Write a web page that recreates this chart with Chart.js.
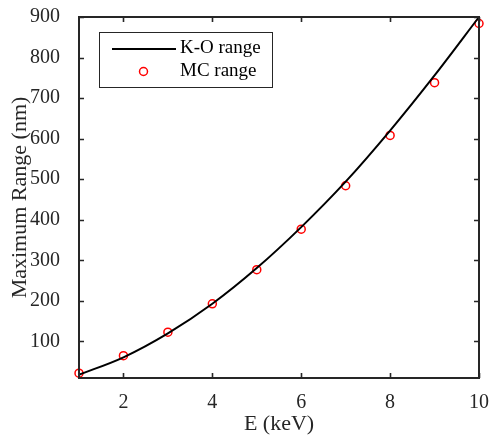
<!DOCTYPE html>
<html>
<head>
<meta charset="utf-8">
<script src="https://cdn.jsdelivr.net/npm/chart.js@4/dist/chart.umd.min.js"></script>
<style>
  html, body { margin: 0; padding: 0; background: #fff; }
  #wrap { width: 490px; height: 437px; }
</style>
</head>
<body>
<div id="wrap"><canvas id="c" width="490" height="437"></canvas></div>
<script>
// Beam energy (keV)
const energies = [1, 2, 3, 4, 5, 6, 7, 8, 9, 10];
// Kanaya–Okayama electron range (nm)
const koRange = [18, 61, 120, 193, 281, 382, 494, 620, 756, 900];
// Monte Carlo simulated maximum range (nm)
const mcRange = [22, 65, 123, 193, 277, 377, 484, 608, 738, 884];
// Axis tick values
const xTicks = [2, 4, 6, 8, 10];
const yTicks = [100, 200, 300, 400, 500, 600, 700, 800, 900];

const INK = '#262626';
const SERIF = "'Liberation Serif', 'Times New Roman', serif";

// Boxed axes with inward ticks on all four sides
const frame = {
  id: 'frame',
  afterDatasetsDraw(chart) {
    const { ctx, chartArea: a, scales: { x, y } } = chart;
    const len = 5;
    ctx.save();
    ctx.strokeStyle = INK;
    ctx.lineWidth = 1.6;
    ctx.beginPath();
    xTicks.forEach(v => {
      const px = Math.round(x.getPixelForValue(v)) + 0.5;
      ctx.moveTo(px, a.bottom); ctx.lineTo(px, a.bottom - len);
      ctx.moveTo(px, a.top); ctx.lineTo(px, a.top + len);
    });
    yTicks.forEach(v => {
      const py = Math.round(y.getPixelForValue(v)) + 0.5;
      ctx.moveTo(a.left, py); ctx.lineTo(a.left + len, py);
      ctx.moveTo(a.right, py); ctx.lineTo(a.right - len, py);
    });
    ctx.stroke();
    ctx.lineWidth = 2;
    ctx.strokeRect(a.left, a.top, a.right - a.left, a.bottom - a.top);
    ctx.restore();
  }
};

// Legend box in the upper-left corner of the plot
const boxLegend = {
  id: 'boxLegend',
  afterDraw(chart) {
    const { ctx } = chart;
    const ds = chart.data.datasets;
    const bx = 99, by = 32, bw = 173, bh = 55;
    ctx.save();
    ctx.fillStyle = '#fff';
    ctx.fillRect(bx, by, bw, bh);
    ctx.strokeStyle = INK;
    ctx.lineWidth = 1;
    ctx.strokeRect(bx + 0.5, by + 0.5, bw, bh);
    // line sample
    ctx.strokeStyle = ds[0].borderColor;
    ctx.lineWidth = ds[0].borderWidth;
    ctx.beginPath();
    ctx.moveTo(112, 49); ctx.lineTo(176, 49);
    ctx.stroke();
    // marker sample
    ctx.strokeStyle = ds[1].pointBorderColor;
    ctx.lineWidth = ds[1].pointBorderWidth;
    ctx.fillStyle = '#fff';
    ctx.beginPath();
    ctx.arc(143.5, 71.5, ds[1].pointRadius, 0, Math.PI * 2);
    ctx.fill(); ctx.stroke();
    ctx.fillStyle = '#000';
    ctx.font = '19px ' + SERIF;
    ctx.textBaseline = 'middle';
    ctx.fillText(ds[0].label, 180, 48);
    ctx.fillText(ds[1].label, 180, 71);
    ctx.restore();
  }
};

new Chart(document.getElementById('c'), {
  type: 'line',
  data: {
    datasets: [
      {
        label: 'K-O range',
        data: energies.map((e, i) => ({ x: e, y: koRange[i] })),
        borderColor: '#000',
        borderWidth: 2,
        pointRadius: 0,
        cubicInterpolationMode: 'monotone',
        fill: false,
        clip: false
      },
      {
        label: 'MC range',
        data: energies.map((e, i) => ({ x: e, y: mcRange[i] })),
        showLine: false,
        pointRadius: 4,
        pointBorderWidth: 1.5,
        pointBorderColor: '#ff0000',
        pointBackgroundColor: '#fff',
        clip: false
      }
    ]
  },
  options: {
    responsive: false,
    animation: false,
    devicePixelRatio: 1,
    layout: { padding: { top: 17, right: 11, left: 0, bottom: 0 } },
    plugins: { legend: { display: false }, tooltip: { enabled: false } },
    scales: {
      x: {
        type: 'linear',
        min: 1, max: 10,
        afterBuildTicks: s => { s.ticks = xTicks.map(v => ({ value: v })); },
        afterFit: s => { s.height = 59; s.paddingLeft = 0; s.paddingRight = 0; },
        grid: { display: false },
        border: { display: false },
        ticks: { color: INK, font: { family: SERIF, size: 20 }, padding: 5, maxRotation: 0 },
        title: { display: true, text: 'E (keV)', color: INK, font: { family: SERIF, size: 22 }, padding: { top: 0, bottom: 0 } }
      },
      y: {
        type: 'linear',
        min: 10, max: 900,
        afterBuildTicks: s => { s.ticks = yTicks.map(v => ({ value: v })); },
        afterFit: s => { s.width = 79; s.paddingTop = 0; s.paddingBottom = 0; },
        grid: { display: false },
        border: { display: false },
        ticks: { color: INK, font: { family: SERIF, size: 20 }, padding: 11 },
        title: { display: true, text: 'Maximum Range (nm)', color: INK, font: { family: SERIF, size: 22 }, padding: { top: 7, bottom: 0 } }
      }
    }
  },
  plugins: [frame, boxLegend]
});
</script>
</body>
</html>
